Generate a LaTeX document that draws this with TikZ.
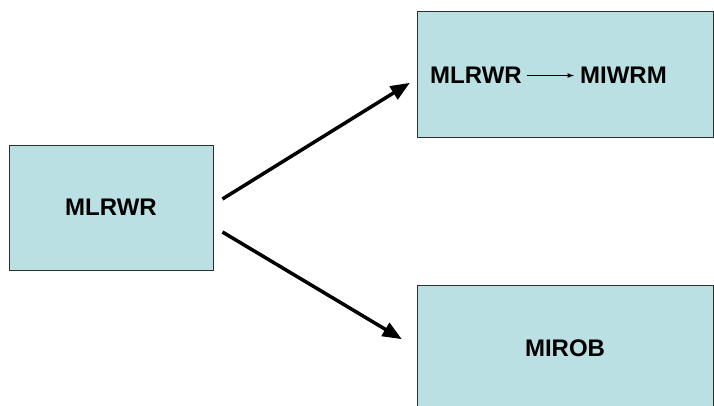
\documentclass[tikz,border=0pt]{standalone}
\usepackage{fontspec}
\setmainfont{Liberation Sans}
\usetikzlibrary{arrows,positioning}
\definecolor{boxfill}{RGB}{187,224,227}
\definecolor{boxline}{RGB}{45,45,45}

\begin{document}
\begin{tikzpicture}[x=1pt,y=-1pt,>=triangle 45,
                    box node/.style={rectangle,draw=boxline,fill=boxfill,line width=0.9pt,
                                     font=\fontsize{24pt}{28}\selectfont\bfseries},
                    label text/.style={inner sep=0pt,font=\fontsize{24pt}{28}\selectfont\bfseries},
                    big arrow/.style={->,line width=3.5pt}]
  \useasboundingbox (0,0) rectangle (714,405);
  \clip (0,0) rectangle (714,405);

  \node[box node,minimum width=204pt,minimum height=125pt] (src) at (111,207.5) {MLRWR};
  \node[box node,minimum width=296pt,minimum height=126pt] (dst1) at (565,74) {};
  \node[box node,minimum width=296pt,minimum height=126pt] (dst2) at (565,348) {MIROB};

  % text inside the upper box
  \node[label text] (from) at (476,75.5) {MLRWR};
  \node[label text,right=58pt of from] (to) {MIWRM};
  \draw[->,>=latex,line width=1.2pt,shorten <=5pt,shorten >=6pt] (from) -- (to);

  \draw[big arrow] ([shift={(9,-8.5)}]src.east) -- ([shift={(-7,9)}]dst1.west);
  \draw[big arrow] ([shift={(9,24.5)}]src.east) -- ([shift={(-15,-9)}]dst2.west);
\end{tikzpicture}
\end{document}
